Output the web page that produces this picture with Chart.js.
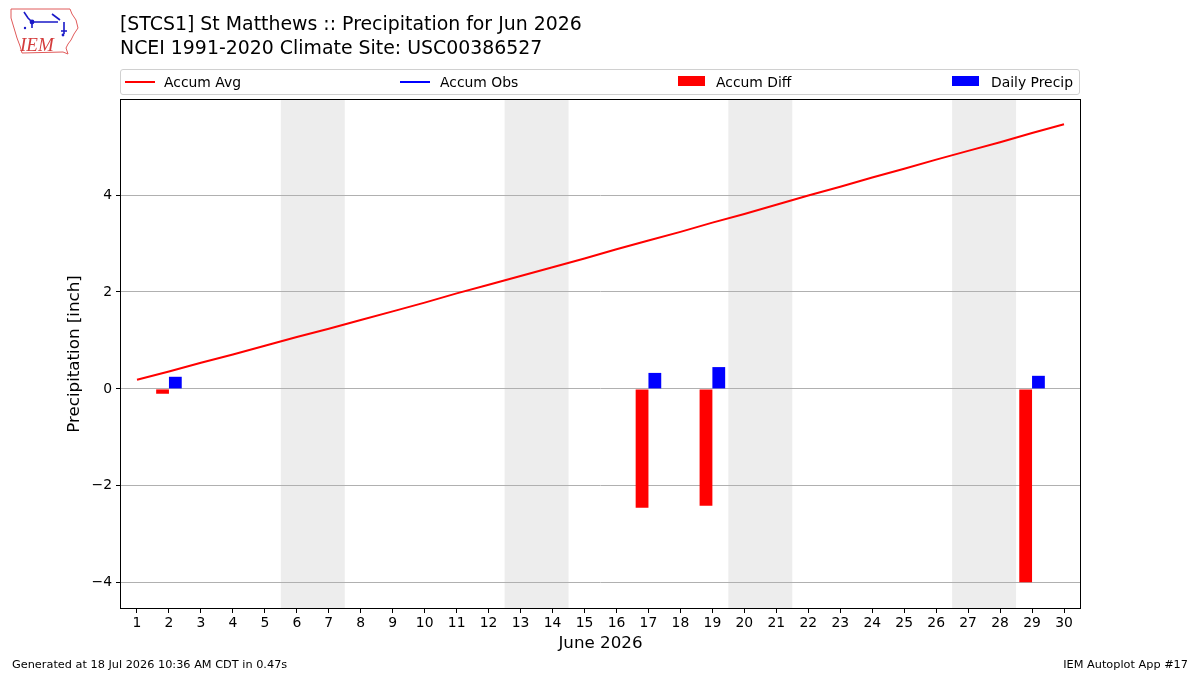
<!DOCTYPE html>
<html>
<head>
<meta charset="utf-8">
<script src="https://cdn.jsdelivr.net/npm/chart.js@4"></script>
<style>
  body { margin: 0; background: #fff; font-family: "DejaVu Sans", sans-serif; }
  #wrap { position: relative; width: 1200px; height: 675px; overflow: hidden; }
  #chart { position: absolute; left: 0; top: 0; }
  .txt { position: absolute; color: #000; white-space: nowrap; }
  #title { left: 120px; top: 11px; font-size: 18.9px; line-height: 24px; }
  #legend { position: absolute; left: 120px; top: 69px; width: 960px; height: 26px;
            border: 1px solid #d0d0d0; border-radius: 3px; box-sizing: border-box; }
  .lg { position: absolute; top: 0; height: 25px; font-size: 13.9px; line-height: 24px; }
  .hl { position: absolute; top: 11px; width: 30px; height: 2px; }
  .hp { position: absolute; top: 6px; width: 27px; height: 10px; }
  .foot { font-size: 11.3px; top: 658px; }
</style>
</head>
<body>
<div id="wrap">
  <canvas id="chart" width="1200" height="675"></canvas>

  <svg class="txt" style="left:8px;top:6px" width="74" height="54" viewBox="0 0 74 54">
    <path d="M3 3 L62 3 L64 8 L68 14 L70 22 L66 28 L63 34 L60 38 L58 42 L60 48 L55 46 L14 47 L12 40 L9 32 L6 22 L3 12 Z"
          fill="none" stroke="#e05a5a" stroke-width="1"/>
    <path d="M16 6 L20 12 L24 16 M24 16 L50 16 M24 16 L24 22 M44 8 L52 14 M56 16 L56 28 M53 25 L59 25"
          fill="none" stroke="#1a1ac8" stroke-width="1.6"/>
    <circle cx="24" cy="16" r="2.4" fill="#1a1ac8"/>
    <circle cx="17" cy="22" r="1.2" fill="#1a1ac8"/>
    <circle cx="55" cy="29" r="1.4" fill="#1a1ac8"/>
    <text x="12" y="45" font-family="Liberation Serif, serif" font-style="italic" font-size="19" fill="#d43c3c">IEM</text>
  </svg>

  <div id="title" class="txt">[STCS1] St Matthews :: Precipitation for Jun 2026<br>NCEI 1991-2020 Climate Site: USC00386527</div>

  <div id="legend">
    <div class="hl" style="left:4px;background:#ff0000"></div>
    <div class="lg" style="left:43px">Accum Avg</div>
    <div class="hl" style="left:279px;background:#0000ff"></div>
    <div class="lg" style="left:319px">Accum Obs</div>
    <div class="hp" style="left:557px;background:#ff0000"></div>
    <div class="lg" style="left:595px">Accum Diff</div>
    <div class="hp" style="left:831px;background:#0000ff"></div>
    <div class="lg" style="left:870px">Daily Precip</div>
  </div>

  <div class="txt foot" style="left:12px">Generated at 18 Jul 2026 10:36 AM CDT in 0.47s</div>
  <div class="txt foot" style="right:12px">IEM Autoplot App #17</div>
</div>

<script>
// ── DATA ─────────────────────────────────────────
const days = Array.from({ length: 30 }, (_, i) => String(i + 1));

const accumAvg = [
  0.19, 0.36, 0.54, 0.71, 0.89, 1.07, 1.24, 1.42, 1.60, 1.78,
  1.97, 2.15, 2.33, 2.51, 2.69, 2.88, 3.06, 3.24, 3.43, 3.61,
  3.80, 3.99, 4.17, 4.36, 4.54, 4.73, 4.91, 5.09, 5.28, 5.46
];

// observed accumulation is not drawn in the reference
const accumObs = [];

const accumDiff = [
  null, -0.10, null, null, null, null, null, null, null, null,
  null, null, null, null, null, null, -2.45, null, -2.41, null,
  null, null, null, null, null, null, null, null, -3.99, null
];

const dailyPrecip = [
  null, 0.25, null, null, null, null, null, null, null, null,
  null, null, null, null, null, null, 0.33, null, 0.45, null,
  null, null, null, null, null, null, null, null, 0.27, null
];

// first day of each shaded weekend (two days each)
const weekendStarts = [6, 13, 20, 27];

const yTicks = [-4, -2, 0, 2, 4];

// ── PLUGINS ──────────────────────────────────────
const weekendShade = {
  id: 'weekendShade',
  beforeDraw(chart) {
    const { ctx, chartArea: ca, scales: { x } } = chart;
    ctx.save();
    ctx.fillStyle = '#ededed';
    weekendStarts.forEach(d => {
      const x0 = x.getPixelForValue(d - 1.5);
      const x1 = x.getPixelForValue(d + 0.5);
      ctx.fillRect(x0, ca.top, x1 - x0, ca.bottom - ca.top);
    });
    ctx.restore();
  }
};

const frame = {
  id: 'frame',
  afterDraw(chart) {
    const { ctx, chartArea: ca } = chart;
    ctx.save();
    ctx.strokeStyle = '#000';
    ctx.lineWidth = 1;
    ctx.strokeRect(Math.round(ca.left) - 0.5, Math.round(ca.top) - 0.5,
                   Math.round(ca.right - ca.left) + 1, Math.round(ca.bottom - ca.top) + 1);
    ctx.restore();
  }
};

const FONT = 'DejaVu Sans';

new Chart(document.getElementById('chart'), {
  type: 'bar',
  data: {
    labels: days,
    datasets: [
      {
        type: 'line', label: 'Accum Avg', data: accumAvg,
        borderColor: '#ff0000', borderWidth: 2, pointRadius: 0, tension: 0, order: 0
      },
      {
        type: 'line', label: 'Accum Obs', data: accumObs,
        borderColor: '#0000ff', borderWidth: 2, pointRadius: 0, order: 1
      },
      {
        label: 'Accum Diff', data: accumDiff,
        backgroundColor: '#ff0000', categoryPercentage: 0.8, barPercentage: 1.0, order: 2
      },
      {
        label: 'Daily Precip', data: dailyPrecip,
        backgroundColor: '#0000ff', categoryPercentage: 0.8, barPercentage: 1.0, order: 3
      }
    ]
  },
  options: {
    responsive: false,
    animation: false,
    layout: { padding: { top: 100, right: 120, left: 0, bottom: 0 } },
    plugins: { legend: { display: false }, title: { display: false }, tooltip: { enabled: false } },
    scales: {
      x: {
        type: 'category',
        offset: true,
        border: { display: false },
        grid: { offset: false, drawOnChartArea: false, tickLength: 5, tickColor: '#000', tickWidth: 1 },
        ticks: { color: '#000', font: { family: FONT, size: 13.9 }, padding: 2, maxRotation: 0, autoSkip: false },
        title: { display: true, text: 'June 2026', color: '#000', font: { family: FONT, size: 16.7 }, padding: { top: 0, bottom: 21 } },
        afterFit(scale) { scale.height = 67; }
      },
      y: {
        min: -4.52,
        max: 5.96,
        border: { display: false },
        grid: { color: '#b0b0b0', lineWidth: 1, tickLength: 5, tickColor: '#000', tickWidth: 1 },
        ticks: {
          stepSize: 2, includeBounds: false, color: '#000', padding: 4,
          font: { family: FONT, size: 13.9 },
          callback: v => yTicks.includes(v) ? String(v).replace('-', '\u2212') : ''
        },
        title: { display: true, text: 'Precipitation [inch]', color: '#000', font: { family: FONT, size: 16.7 }, padding: { top: 65, bottom: 0 } },
        afterFit(scale) { scale.width = 121; }
      }
    }
  },
  plugins: [weekendShade, frame]
});
</script>
</body>
</html>
